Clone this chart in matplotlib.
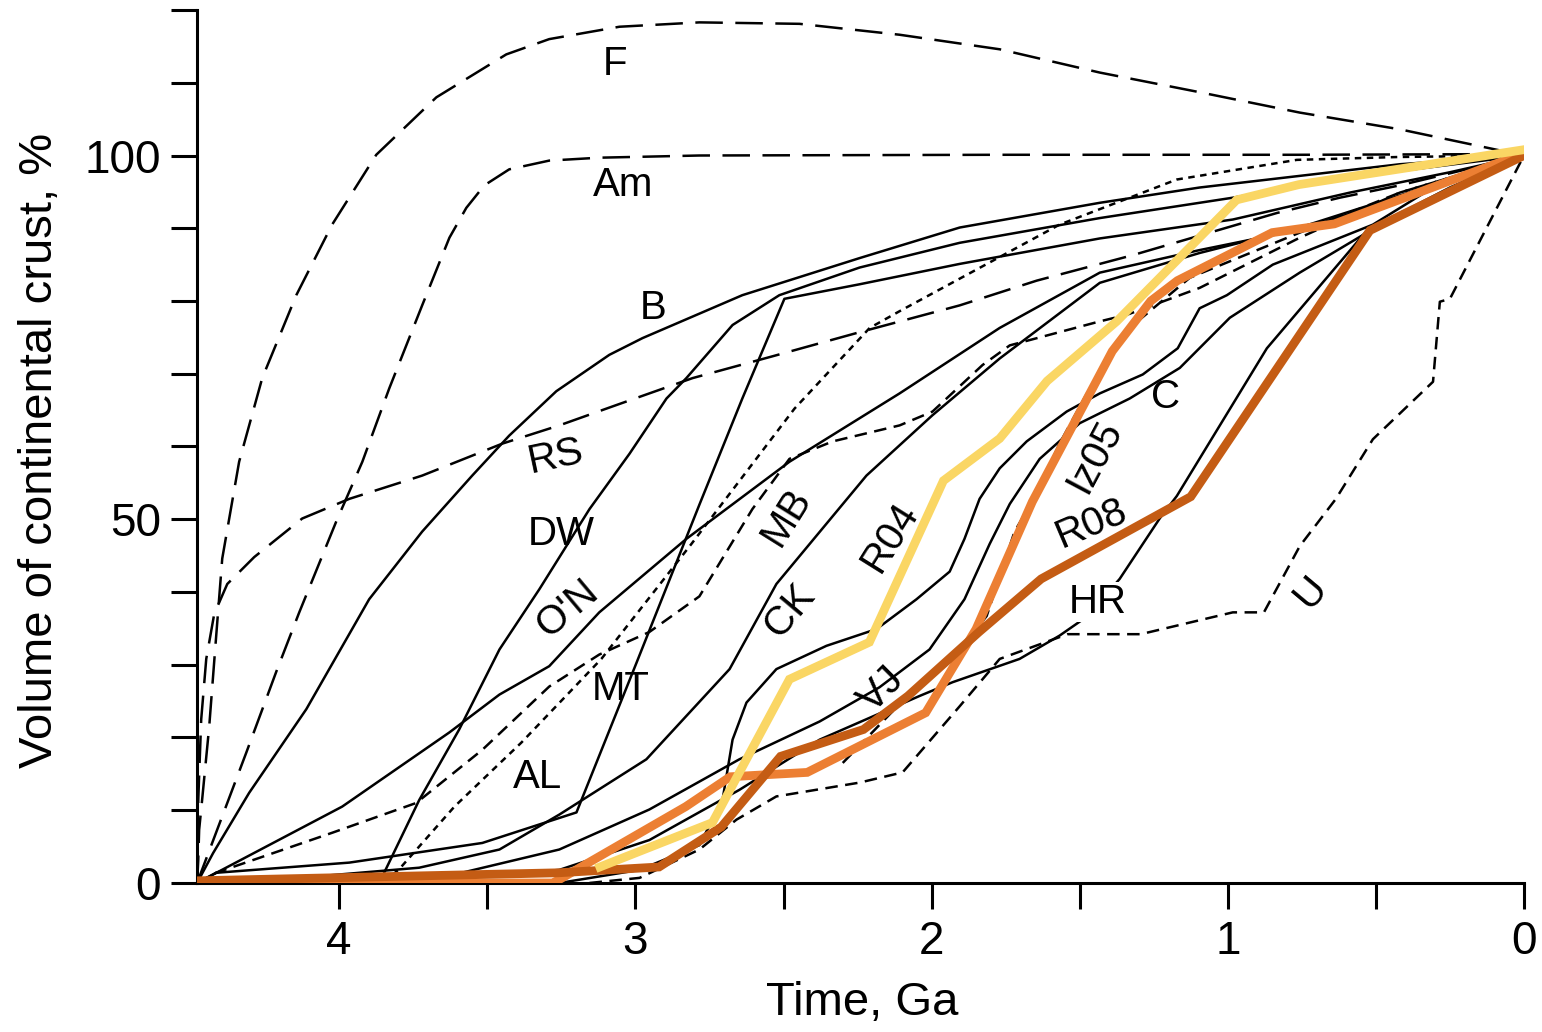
import matplotlib
matplotlib.use("Agg")
import matplotlib.pyplot as plt

plt.rcParams['font.family'] = ['Liberation Sans', 'DejaVu Sans']

# ---- crustal growth models: age (Ga) and cumulative crust volume (%) ----
f_age = [4.48, 4.476, 4.473, 4.463, 4.439, 4.419, 4.395, 4.338, 4.26, 4.145, 4.024, 3.875, 3.672,
         3.436, 3.291, 3.054, 2.784, 2.446, 2.108, 1.77, 1.432, 1.095, 0.757, 0.419, 0.0]
f_vol = [0, 3.2, 7.3, 11.4, 21.5, 32.1, 44.6, 57.9, 69.4, 80.8, 90.5, 100.1, 108.0,
         113.9, 116.0, 117.7, 118.3, 118.1, 116.6, 114.6, 111.4, 108.7, 105.9, 103.6, 100.0]

am_age = [4.48, 4.416, 4.314, 4.213, 4.135, 4.01, 3.922, 3.831, 3.72, 3.628, 3.571, 3.51,
          3.426, 3.291, 3.122, 2.784, 1.77, 0.757, 0.0]
am_vol = [0, 6.9, 17.9, 29.0, 37.2, 49.7, 57.9, 68.0, 79.4, 88.7, 92.8, 95.9,
          98.1, 99.3, 99.7, 100.0, 100.1, 100.1, 100.2]

rs_age = [4.48, 4.476, 4.466, 4.449, 4.422, 4.378, 4.287, 4.125, 3.966, 3.72, 3.449, 3.257,
          3.064, 2.807, 2.537, 2.253, 1.905, 1.645, 1.321, 0.834, 0.622, 0.419, 0.0]
rs_vol = [0, 11.4, 22.5, 30.8, 37.0, 41.1, 44.8, 50.1, 52.8, 56.0, 60.4, 62.9,
          65.7, 69.4, 72.4, 75.6, 79.4, 82.8, 86.3, 92.1, 94.2, 95.9, 100.0]

b_age = [4.48, 4.426, 4.304, 4.111, 3.899, 3.72, 3.551, 3.426, 3.267, 3.088, 2.976, 2.639,
         2.243, 1.905, 1.432, 1.095, 0.757, 0.419, 0.0]
b_vol = [0, 4.1, 12.4, 23.9, 39.0, 48.3, 56.0, 61.5, 67.6, 72.6, 74.9, 80.8,
         85.9, 90.1, 93.5, 95.6, 97.2, 98.8, 100.0]

dw_age = [3.865, 3.73, 3.595, 3.459, 3.324, 3.155, 3.02, 2.895, 2.828, 2.672, 2.514, 2.243,
          1.905, 1.432, 0.983, 0.588, 0.0]
dw_vol = [0, 11.4, 21.1, 32.1, 40.4, 51.4, 59.0, 66.6, 69.4, 76.7, 80.8, 84.6,
          88.0, 91.4, 94.2, 97.0, 100.0]

mt_age = [4.48, 4.416, 3.966, 3.517, 3.199, 2.996, 2.784, 2.639, 2.497, 2.243, 1.905, 1.432,
          0.983, 0.588, 0.25, 0.0]
mt_vol = [0, 1.4, 2.8, 5.5, 9.7, 30.3, 52.0, 66.6, 80.3, 82.3, 85.1, 88.6,
          91.2, 94.9, 97.7, 100.0]

on_age = [4.48, 3.99, 3.628, 3.459, 3.291, 3.122, 2.828, 2.48, 2.108, 1.77, 1.432, 1.095,
          0.757, 0.419, 0.0]
on_vol = [0, 10.5, 20.7, 25.9, 29.8, 37.2, 47.3, 57.9, 67.3, 76.3, 83.9, 87.0,
          89.8, 94.2, 100.0]

ck_age = [4.48, 4.135, 3.73, 3.459, 3.257, 2.963, 2.682, 2.524, 2.22, 1.997, 1.77, 1.432,
          1.095, 0.757, 0.419, 0.0]
ck_vol = [0, 0.7, 2.1, 4.6, 9.4, 17.0, 29.4, 41.1, 56.0, 64.3, 72.1, 82.5,
          86.6, 90.1, 94.5, 100.0]

al_age = [3.848, 3.791, 3.611, 3.385, 3.115, 2.811, 2.463, 2.209, 2.108, 1.568, 1.172, 0.767,
          0.419, 0.0]
al_vol = [0, 2.2, 10.5, 19.3, 30.8, 46.6, 65.2, 76.3, 78.6, 90.5, 96.7, 99.4,
          99.8, 100.0]

mb_age = [4.48, 4.416, 4.024, 3.74, 3.517, 3.291, 3.122, 2.953, 2.784, 2.605, 2.48, 2.334,
          2.108, 1.997, 1.828, 1.736, 1.432, 1.341, 1.095, 0.757, 0.419, 0.0]
mb_vol = [0, 1.4, 6.9, 11.0, 18.3, 27.0, 31.4, 34.5, 39.4, 51.4, 58.3, 60.7,
          62.9, 64.8, 71.2, 73.9, 77.2, 78.1, 81.8, 88.7, 94.9, 100.0]

c_age = [3.257, 2.986, 2.784, 2.706, 2.672, 2.625, 2.524, 2.355, 2.186, 2.051, 1.939, 1.889,
         1.838, 1.77, 1.679, 1.544, 1.432, 1.287, 1.169, 1.095, 1.003, 0.848, 0.51,
         0.307, 0.0]
c_vol = [0, 1.8, 5.2, 11.4, 19.7, 24.8, 29.4, 32.6, 34.9, 39.0, 42.8, 47.3,
         52.8, 57.0, 60.7, 64.8, 67.3, 69.9, 73.5, 79.0, 80.8, 85.0, 90.5,
         95.6, 100.0]

vj_age = [4.48, 3.628, 3.257, 2.953, 2.649, 2.378, 2.176, 2.007, 1.889, 1.804, 1.736, 1.635,
          1.5, 1.331, 1.162, 0.993, 0.757, 0.419, 0.0]
vj_vol = [0, 1.0, 4.6, 10.1, 17.0, 22.2, 26.9, 32.1, 39.0, 46.6, 52.1, 58.3,
          63.2, 66.6, 70.8, 77.7, 83.9, 92.1, 100.0]

hr_age = [3.797, 3.257, 2.953, 2.649, 2.378, 2.041, 1.929, 1.703, 1.568, 1.476, 1.365, 1.23,
          1.172, 0.868, 0.53, 0.25, 0.0]
hr_vol = [0, 1.8, 5.9, 12.8, 19.7, 25.7, 27.6, 30.8, 34.0, 36.6, 41.8, 50.1,
          53.2, 73.5, 89.7, 95.6, 100.0]

u_age = [3.155, 2.986, 2.784, 2.659, 2.524, 2.243, 2.098, 1.905, 1.77, 1.541, 1.294, 0.983,
         0.878, 0.757, 0.635, 0.51, 0.307, 0.284, 0.25, 0.0]
u_vol = [0, 0.7, 4.6, 8.7, 11.9, 13.8, 15.2, 24.3, 30.8, 34.2, 34.2, 37.2,
         37.2, 46.3, 52.8, 61.0, 68.9, 79.9, 80.3, 100.0]

# unlabelled dashed model running beside Iz05
xd_age = [2.30, 2.108, 1.929, 1.814, 1.72, 1.655, 1.568, 1.466, 1.331, 1.128, 0.757, 0.419, 0.0]
xd_vol = [16.5, 24.6, 30.8, 36.7, 48.3, 52.8, 60.4, 68.0, 76.3, 83.2, 89.4, 94.9, 100.0]

# ---- highlighted models ----
r04_age = [3.12, 2.74, 2.48, 2.21, 1.96, 1.77, 1.61, 1.375, 0.97, 0.76, 0.0]
r04_vol = [2.2, 8.3, 28.0, 33.1, 55.3, 61.1, 69.0, 77.2, 93.9, 96.0, 100.8]

iz05_age = [4.48, 3.28, 3.26, 2.83, 2.68, 2.42, 2.02, 1.85, 1.66, 1.39, 1.26, 1.17,
            0.85, 0.64, 0.0]
iz05_vol = [0, 0, 0.4, 10.5, 14.6, 15.2, 23.4, 34.9, 52.4, 73.1, 80.0, 82.8,
            89.4, 90.6, 100.3]

r08_age = [4.48, 3.26, 2.92, 2.71, 2.51, 2.23, 2.08, 1.84, 1.63, 1.125, 0.52, 0.0]
r08_vol = [0.3, 1.4, 2.2, 7.7, 17.4, 21.1, 25.7, 34.5, 41.8, 53.1, 89.7, 100.0]

# ---- curve annotations: text, age, volume, rotation ----
label_text = ["F", "Am", "B", "RS", "DW", "O'N", "MT", "AL", "MB", "CK", "R04", "VJ",
              "Iz05", "C", "R08", "HR", "U"]
label_age = [3.07, 3.04, 2.94, 3.27, 3.25, 3.23, 3.05, 3.33, 2.49, 2.48, 2.14, 2.17,
             1.45, 1.21, 1.46, 1.44, 0.72]
label_vol = [112.6, 95.9, 79.0, 58.6, 48.0, 37.7, 26.6, 14.5, 50.3, 37.4, 47.6, 26.6,
             58.6, 66.8, 49.4, 38.6, 40.0]
label_rot = [0, 0, 0, 12, 0, 40, 0, 0, 58, 50, 58, 45, 62, 0, 23, 0, 50]

x_ticks = [0, 0.5, 1, 1.5, 2, 2.5, 3, 3.5, 4]
x_tick_labels = ["0", "", "1", "", "2", "", "3", "", "4"]
y_ticks = [0, 10, 20, 30, 40, 50, 60, 70, 80, 90, 100, 110, 120]
y_tick_labels = ["0", "", "", "", "", "50", "", "", "", "", "100", "", ""]

fig = plt.figure(figsize=(15.42, 10.32), dpi=100)
ax = fig.add_axes([0.1278, 0.1444, 0.8605, 0.8459])

thin = 1.8
long_dash = (0, (11, 5))
mid_dash = (0, (5, 3))
short_dash = (0, (2.6, 2.2))

black_curves = [
    (f_age, f_vol, long_dash),
    (am_age, am_vol, long_dash),
    (rs_age, rs_vol, long_dash),
    (b_age, b_vol, '-'),
    (dw_age, dw_vol, '-'),
    (mt_age, mt_vol, '-'),
    (on_age, on_vol, '-'),
    (ck_age, ck_vol, '-'),
    (al_age, al_vol, short_dash),
    (mb_age, mb_vol, mid_dash),
    (c_age, c_vol, '-'),
    (vj_age, vj_vol, '-'),
    (hr_age, hr_vol, '-'),
    (u_age, u_vol, mid_dash),
    (xd_age, xd_vol, mid_dash),
]
for xs, ys, ls in black_curves:
    ax.plot(xs, ys, color='black', lw=thin, linestyle=ls, solid_joinstyle='round',
            dash_capstyle='butt', zorder=2)

thick = 6.3
ax.plot(iz05_age, iz05_vol, color='#EC7F33', lw=thick, solid_joinstyle='miter', zorder=3)
ax.plot(r08_age, r08_vol, color='#C45C14', lw=thick, solid_joinstyle='miter', zorder=4)
ax.plot(r04_age, r04_vol, color='#FAD664', lw=thick, solid_joinstyle='miter', zorder=5)

for t, a, v, r in zip(label_text, label_age, label_vol, label_rot):
    kw = {}
    if t == "HR":
        kw['bbox'] = dict(facecolor='white', edgecolor='none', pad=1)
    ax.text(a, v, t, fontsize=29, ha='center', va='center', rotation=r,
            rotation_mode='anchor', zorder=6, **kw)

ax.set_xlim(4.48, 0)
ax.set_ylim(0, 120)
ax.set_xticks(x_ticks)
ax.set_xticklabels(x_tick_labels)
ax.set_yticks(y_ticks)
ax.set_yticklabels(y_tick_labels)
ax.tick_params(axis='both', direction='out', length=19, width=2.2, labelsize=33)
ax.tick_params(axis='x', pad=8)
ax.tick_params(axis='y', pad=7)

for side in ('top', 'right'):
    ax.spines[side].set_visible(False)
for side in ('left', 'bottom'):
    ax.spines[side].set_linewidth(2.2)

fig.text(40 / 1542, 1 - 450 / 1032, "Volume of continental crust, %", rotation=90,
         ha='center', va='center', fontsize=34)
fig.text(862 / 1542, 1 - 1003 / 1032, "Time, Ga", ha='center', va='center', fontsize=34)

fig.savefig("out.png", dpi=100, facecolor='white')
